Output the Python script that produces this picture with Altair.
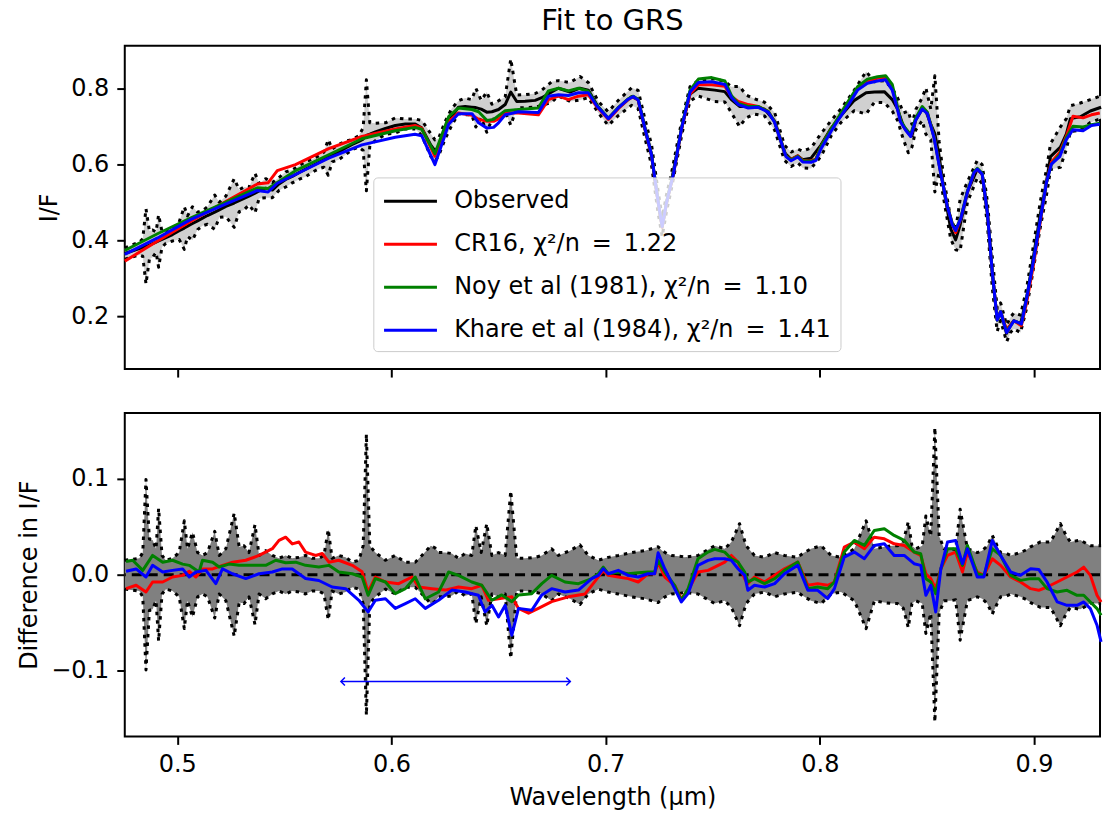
import altair as alt
import pandas as pd

FONT = "DejaVu Sans"
EQ = "\u2002=\u2002"
SERIES = ["Observed", f"CR16, χ²/n{EQ}1.22", f"Noy et al (1981), χ²/n{EQ}1.10",
          f"Khare et al (1984), χ²/n{EQ}1.41"]
COLORS = ["#000000", "#ff0000", "#008000", "#0000ff"]
X_TICKS = [0.5, 0.6, 0.7, 0.8, 0.9]
TOP_Y_TICKS = [0.2, 0.4, 0.6, 0.8]
BOT_Y_TICKS = [-0.1, 0.0, 0.1]

# ---- observed spectrum (I/F) and its uncertainty ----
obs_wl = [
    0.4755, 0.4823, 0.4839, 0.4854, 0.4870, 0.4885, 0.4901, 0.4913, 0.4929, 0.4947,
    0.4978, 0.5009, 0.5033, 0.5048, 0.5071, 0.5095, 0.5118, 0.5141, 0.5175, 0.5196,
    0.5227, 0.5266, 0.5289, 0.5312, 0.5335, 0.5363, 0.5382, 0.5413, 0.5444, 0.5475,
    0.5506, 0.5537, 0.5568, 0.5599, 0.5630, 0.5661, 0.5685, 0.5705, 0.5723, 0.5754,
    0.5786, 0.5817, 0.5848, 0.5868, 0.5883, 0.5899, 0.5925, 0.5972, 0.6018, 0.6065,
    0.6111, 0.6142, 0.6184, 0.6203, 0.6220, 0.6251, 0.6282, 0.6313, 0.6344, 0.6375,
    0.6394, 0.6419, 0.6445, 0.6469, 0.6500, 0.6531, 0.6557, 0.6585, 0.6624, 0.6671,
    0.6702, 0.6748, 0.6779, 0.6834, 0.6880, 0.6919, 0.6966, 0.7012, 0.7059, 0.7121,
    0.7152, 0.7183, 0.7214, 0.7245, 0.7264, 0.7285, 0.7307, 0.7355, 0.7369, 0.7394,
    0.7431, 0.7509, 0.7556, 0.7587, 0.7625, 0.7656, 0.7695, 0.7742, 0.7789, 0.7835,
    0.7866, 0.7897, 0.7920, 0.7959, 0.8006, 0.8053, 0.8099, 0.8161, 0.8216, 0.8255,
    0.8301, 0.8338, 0.8363, 0.8390, 0.8413, 0.8430, 0.8448, 0.8478, 0.8495, 0.8518,
    0.8537, 0.8557, 0.8580, 0.8611, 0.8634, 0.8655, 0.8689, 0.8735, 0.8758, 0.8782,
    0.8805, 0.8828, 0.8844, 0.8872, 0.8891, 0.8906, 0.8937, 0.8965, 0.8984, 0.9030,
    0.9058, 0.9077, 0.9123, 0.9151, 0.9170, 0.9216, 0.9263, 0.9313]
obs_if = [
    0.365, 0.378, 0.381, 0.384, 0.387, 0.391, 0.395, 0.398, 0.402, 0.407,
    0.415, 0.425, 0.432, 0.437, 0.444, 0.451, 0.458, 0.465, 0.474, 0.480,
    0.489, 0.498, 0.504, 0.510, 0.516, 0.524, 0.530, 0.537, 0.532, 0.548,
    0.560, 0.568, 0.578, 0.587, 0.596, 0.605, 0.612, 0.618, 0.623, 0.632,
    0.643, 0.652, 0.660, 0.666, 0.676, 0.679, 0.685, 0.694, 0.702, 0.706,
    0.706, 0.695, 0.650, 0.636, 0.645, 0.690, 0.725, 0.750, 0.752, 0.750,
    0.749, 0.745, 0.737, 0.738, 0.744, 0.757, 0.790, 0.765, 0.766, 0.768,
    0.775, 0.790, 0.800, 0.790, 0.800, 0.795, 0.750, 0.720, 0.748, 0.778,
    0.770, 0.695, 0.625, 0.500, 0.435, 0.500, 0.555, 0.695, 0.730, 0.785,
    0.800, 0.795, 0.791, 0.770, 0.752, 0.752, 0.752, 0.745, 0.713, 0.630,
    0.613, 0.622, 0.612, 0.616, 0.651, 0.695, 0.728, 0.768, 0.788, 0.790,
    0.791, 0.770, 0.745, 0.700, 0.685, 0.675, 0.717, 0.745, 0.740, 0.705,
    0.680, 0.620, 0.530, 0.430, 0.401, 0.440, 0.527, 0.587, 0.574, 0.473,
    0.316, 0.190, 0.212, 0.155, 0.178, 0.188, 0.180, 0.246, 0.310, 0.470,
    0.552, 0.620, 0.645, 0.680, 0.720, 0.725, 0.740, 0.750]
obs_err = [
    0.015, 0.017, 0.023, 0.099, 0.037, 0.036, 0.027, 0.069, 0.020, 0.015,
    0.017, 0.023, 0.056, 0.027, 0.044, 0.023, 0.020, 0.023, 0.045, 0.020,
    0.027, 0.064, 0.029, 0.030, 0.023, 0.052, 0.020, 0.025, 0.020, 0.017,
    0.020, 0.017, 0.018, 0.020, 0.017, 0.017, 0.020, 0.047, 0.017, 0.020,
    0.018, 0.013, 0.015, 0.030, 0.146, 0.030, 0.023, 0.015, 0.020, 0.013,
    0.013, 0.020, 0.030, 0.028, 0.023, 0.023, 0.022, 0.017, 0.022, 0.020,
    0.051, 0.023, 0.053, 0.020, 0.023, 0.020, 0.087, 0.017, 0.017, 0.018,
    0.020, 0.027, 0.020, 0.025, 0.031, 0.020, 0.015, 0.018, 0.020, 0.023,
    0.024, 0.025, 0.027, 0.029, 0.025, 0.022, 0.020, 0.019, 0.018, 0.019,
    0.020, 0.030, 0.027, 0.034, 0.053, 0.030, 0.020, 0.018, 0.023, 0.020,
    0.019, 0.018, 0.022, 0.027, 0.030, 0.020, 0.018, 0.027, 0.056, 0.027,
    0.029, 0.030, 0.030, 0.035, 0.055, 0.030, 0.027, 0.030, 0.061, 0.040,
    0.153, 0.040, 0.027, 0.027, 0.026, 0.068, 0.027, 0.023, 0.025, 0.030,
    0.041, 0.030, 0.023, 0.022, 0.020, 0.021, 0.023, 0.026, 0.029, 0.034,
    0.034, 0.034, 0.053, 0.040, 0.034, 0.036, 0.030, 0.030]

# ---- model spectra ----
mod_wl = [
    0.4755, 0.4908, 0.5064, 0.5220, 0.5374, 0.5424, 0.5467, 0.5552, 0.5707, 0.5862,
    0.6018, 0.6110, 0.6141, 0.6203, 0.6267, 0.6313, 0.6376, 0.6407, 0.6446, 0.6477,
    0.6500, 0.6531, 0.6593, 0.6686, 0.6733, 0.6780, 0.6826, 0.6873, 0.6919, 0.6958,
    0.7013, 0.7059, 0.7105, 0.7129, 0.7152, 0.7183, 0.7214, 0.7245, 0.7264, 0.7285,
    0.7316, 0.7355, 0.7394, 0.7433, 0.7495, 0.7557, 0.7588, 0.7619, 0.7666, 0.7712,
    0.7759, 0.7788, 0.7819, 0.7842, 0.7866, 0.7897, 0.7920, 0.7959, 0.7982, 0.8005,
    0.8052, 0.8083, 0.8129, 0.8176, 0.8222, 0.8269, 0.8307, 0.8338, 0.8362, 0.8377,
    0.8400, 0.8424, 0.8447, 0.8478, 0.8502, 0.8533, 0.8564, 0.8595, 0.8619, 0.8634,
    0.8658, 0.8689, 0.8720, 0.8735, 0.8758, 0.8782, 0.8805, 0.8828, 0.8844, 0.8872,
    0.8906, 0.8941, 0.8965, 0.8996, 0.9027, 0.9058, 0.9081, 0.9120, 0.9151, 0.9182,
    0.9229, 0.9268, 0.9307]
cr16 = [
    0.345, 0.398, 0.450, 0.500, 0.548, 0.551, 0.583, 0.599, 0.641, 0.673,
    0.693, 0.702, 0.695, 0.621, 0.712, 0.735, 0.729, 0.718, 0.713, 0.713,
    0.719, 0.735, 0.735, 0.730, 0.770, 0.779, 0.770, 0.779, 0.783, 0.752,
    0.718, 0.746, 0.770, 0.778, 0.768, 0.694, 0.624, 0.500, 0.435, 0.500,
    0.572, 0.694, 0.785, 0.809, 0.809, 0.805, 0.778, 0.765, 0.757, 0.752,
    0.739, 0.713, 0.661, 0.622, 0.612, 0.622, 0.610, 0.608, 0.614, 0.646,
    0.692, 0.718, 0.760, 0.800, 0.819, 0.826, 0.828, 0.800, 0.748, 0.713,
    0.691, 0.674, 0.717, 0.748, 0.735, 0.672, 0.578, 0.491, 0.442, 0.420,
    0.457, 0.527, 0.578, 0.587, 0.574, 0.473, 0.316, 0.192, 0.212, 0.165,
    0.188, 0.175, 0.235, 0.330, 0.440, 0.552, 0.605, 0.631, 0.674, 0.726,
    0.722, 0.730, 0.735]
noy = [
    0.373, 0.417, 0.459, 0.498, 0.538, 0.536, 0.552, 0.583, 0.625, 0.667,
    0.688, 0.697, 0.692, 0.628, 0.725, 0.748, 0.744, 0.738, 0.715, 0.718,
    0.728, 0.741, 0.744, 0.748, 0.793, 0.800, 0.793, 0.800, 0.792, 0.756,
    0.721, 0.749, 0.772, 0.779, 0.771, 0.696, 0.626, 0.502, 0.437, 0.502,
    0.574, 0.697, 0.795, 0.824, 0.828, 0.819, 0.780, 0.760, 0.752, 0.752,
    0.739, 0.713, 0.661, 0.622, 0.611, 0.621, 0.609, 0.607, 0.613, 0.646,
    0.692, 0.720, 0.762, 0.804, 0.824, 0.830, 0.833, 0.810, 0.752, 0.716,
    0.694, 0.677, 0.721, 0.752, 0.737, 0.672, 0.578, 0.491, 0.442, 0.426,
    0.459, 0.529, 0.580, 0.589, 0.576, 0.473, 0.316, 0.190, 0.212, 0.160,
    0.188, 0.180, 0.246, 0.342, 0.447, 0.552, 0.600, 0.625, 0.670, 0.700,
    0.698, 0.704, 0.708]
khare = [
    0.363, 0.406, 0.455, 0.494, 0.531, 0.527, 0.550, 0.573, 0.616, 0.651,
    0.671, 0.679, 0.675, 0.599, 0.705, 0.733, 0.733, 0.709, 0.695, 0.697,
    0.709, 0.730, 0.738, 0.736, 0.779, 0.783, 0.781, 0.788, 0.788, 0.754,
    0.720, 0.748, 0.771, 0.778, 0.769, 0.695, 0.625, 0.501, 0.436, 0.501,
    0.573, 0.696, 0.790, 0.815, 0.817, 0.810, 0.775, 0.757, 0.748, 0.750,
    0.737, 0.711, 0.659, 0.620, 0.609, 0.619, 0.606, 0.605, 0.610, 0.640,
    0.686, 0.714, 0.752, 0.795, 0.813, 0.819, 0.822, 0.795, 0.745, 0.711,
    0.690, 0.673, 0.715, 0.745, 0.733, 0.670, 0.576, 0.490, 0.440, 0.426,
    0.457, 0.527, 0.578, 0.587, 0.574, 0.473, 0.316, 0.190, 0.212, 0.157,
    0.188, 0.180, 0.246, 0.342, 0.447, 0.552, 0.600, 0.620, 0.665, 0.691,
    0.688, 0.702, 0.705]

# ---- differences (model - observed) ----
d_tail_wl = [
    0.7012, 0.7059, 0.7105, 0.7152, 0.7198, 0.7229, 0.7245, 0.7276, 0.7322, 0.7353,
    0.7385, 0.7431, 0.7478, 0.7509, 0.7556, 0.7587, 0.7618, 0.7649, 0.7664, 0.7695,
    0.7742, 0.7789, 0.7835, 0.7897, 0.7944, 0.7990, 0.8037, 0.8068, 0.8114, 0.8161,
    0.8208, 0.8254, 0.8301, 0.8347, 0.8394, 0.8440, 0.8471, 0.8495, 0.8518, 0.8541,
    0.8565, 0.8596, 0.8634, 0.8666, 0.8689, 0.8735, 0.8766, 0.8805, 0.8844, 0.8891,
    0.8937, 0.8984, 0.9022, 0.9061, 0.9108, 0.9154, 0.9201, 0.9232, 0.9263, 0.9294,
    0.9313]
d_cr16_head_wl = [
    0.4761, 0.4808, 0.4854, 0.4885, 0.4932, 0.4978, 0.5025, 0.5056, 0.5087, 0.5118,
    0.5165, 0.5211, 0.5258, 0.5320, 0.5382, 0.5444, 0.5475, 0.5506, 0.5537, 0.5568,
    0.5599, 0.5646, 0.5677, 0.5708, 0.5754, 0.5817, 0.5863, 0.5891, 0.5925, 0.5972,
    0.6034, 0.6096, 0.6127, 0.6189, 0.6251, 0.6313, 0.6375, 0.6422, 0.6453, 0.6500,
    0.6562, 0.6593, 0.6640, 0.6686, 0.6748, 0.6826, 0.6904, 0.6950, 0.6989]
d_cr16 = [
    -0.0145, -0.011, -0.018, -0.0076, -0.0076, -0.0024, -0.0007, 0.0035, -0.0024, 0.006,
    0.006, 0.0097, 0.013, 0.015, 0.020, 0.027, 0.0356, 0.039, 0.032, 0.034,
    0.0235, 0.020, 0.022, 0.013, 0.015, 0.0097, 0.003, -0.018, -0.0024, -0.0076,
    -0.0093, -0.0024, -0.0128, -0.0145, -0.016, -0.0128, -0.0145, -0.011, -0.0266, -0.025,
    -0.023, -0.035, -0.040, -0.035, -0.028, -0.023, -0.020, -0.007, 0.0045,
    -0.0007, -0.0024, -0.0041, -0.0076, 0.001, 0.001, 0.0131, -0.0024, -0.011, -0.0249,
    -0.0162, 0.0028, 0.0045, 0.0079, 0.0131, 0.020, 0.0131, -0.0041, -0.0093, -0.0024,
    -0.0076, -0.0007, 0.0062, 0.0131, -0.011, -0.0093, -0.011, -0.0076, 0.0287, 0.0339,
    0.0269, 0.039, 0.0373, 0.0321, 0.0304, 0.0235, 0.020, 0.001, -0.0041, -0.0145,
    0.0062, 0.020, 0.0235, 0.0028, 0.0235, 0.0028, -0.0007, 0.0166, 0.0097, -0.0024,
    -0.0076, -0.0145, -0.0162, -0.0128, -0.0076, -0.0024, 0.0028, 0.0079, -0.0007, -0.0214,
    -0.0283]
d_noy_head_wl = [
    0.4761, 0.4792, 0.4839, 0.4885, 0.4932, 0.4978, 0.5025, 0.5056, 0.5102, 0.5118,
    0.5165, 0.5196, 0.5242, 0.5289, 0.5351, 0.5413, 0.5460, 0.5506, 0.5553, 0.5599,
    0.5661, 0.5708, 0.5754, 0.5817, 0.5863, 0.5891, 0.5925, 0.5972, 0.6018, 0.6065,
    0.6111, 0.6158, 0.6220, 0.6267, 0.6313, 0.6375, 0.6422, 0.6469, 0.6515, 0.6562,
    0.6593, 0.6655, 0.6702, 0.6748, 0.6810, 0.6873, 0.6935, 0.6966, 0.6989]
d_noy = [
    0.0138, 0.015, 0.0045, 0.020, 0.013, 0.015, 0.011, 0.0097, 0.0028, 0.015,
    0.013, 0.008, 0.011, 0.0097, 0.0097, 0.0097, 0.015, 0.0124, 0.013, 0.0097,
    0.008, 0.0097, 0.0028, 0.001, -0.0024, -0.0214, -0.004, -0.0076, -0.0197, -0.0145,
    -0.0024, -0.025, -0.018, 0.0028, -0.0007, -0.0076, -0.011, -0.0266, -0.021, -0.028,
    -0.021, -0.0197, -0.0093, -0.0007, -0.0076, -0.0093, -0.004, 0.001, 0.0079,
    0.001, 0.0028, 0.001, 0.0021, 0.0028, 0.0028, 0.0149, 0.0028, -0.011, -0.0266,
    -0.0145, 0.0166, 0.0235, 0.0263, 0.0235, 0.0166, 0.0131, 0.0028, -0.0076, -0.0041,
    -0.0093, -0.0041, 0.0045, 0.0131, -0.0145, -0.0128, -0.0145, -0.0076, 0.0235, 0.0356,
    0.0304, 0.0459, 0.0477, 0.0408, 0.0356, 0.0235, 0.0218, -0.0041, -0.0076, -0.0197,
    0.0062, 0.0269, 0.0269, 0.0097, 0.0304, 0.001, -0.0007, 0.0269, 0.0200, -0.0007,
    -0.0059, -0.0041, -0.0041, -0.0145, -0.0180, -0.0162, -0.0214, -0.0214, -0.0283, -0.0352,
    -0.0421]
d_khare_head_wl = [
    0.4761, 0.4808, 0.4854, 0.4885, 0.4932, 0.4978, 0.5025, 0.5056, 0.5087, 0.5134,
    0.5180, 0.5211, 0.5258, 0.5320, 0.5382, 0.5444, 0.5491, 0.5537, 0.5599, 0.5661,
    0.5723, 0.5786, 0.5848, 0.5891, 0.5925, 0.5972, 0.6018, 0.6065, 0.6111, 0.6158,
    0.6220, 0.6282, 0.6344, 0.6406, 0.6437, 0.6469, 0.6500, 0.6531, 0.6562, 0.6593,
    0.6655, 0.6702, 0.6748, 0.6810, 0.6873, 0.6935, 0.6966, 0.6989]
d_khare = [
    0.0035, 0.006, -0.0024, 0.0097, 0.0028, 0.0045, 0.006, -0.0024, 0.0028, 0.0045,
    -0.0093, 0.006, 0.001, -0.004, 0.001, 0.0028, 0.006, 0.006, -0.004, -0.006,
    -0.0128, -0.0145, -0.0266, -0.0387, -0.0266, -0.025, -0.035, -0.030, -0.025, -0.035,
    -0.0266, -0.016, -0.018, -0.0214, -0.0387, -0.0318, -0.0439, -0.0318, -0.0629, -0.035,
    -0.037, -0.021, -0.0145, -0.018, -0.016, -0.004, -0.0007, 0.0062,
    0.001, 0.0045, -0.0007, -0.0024, 0.001, 0.001, 0.0228, 0.0062, -0.0145, -0.0283,
    -0.0197, 0.0097, 0.0149, 0.0166, 0.0166, 0.0149, 0.0062, -0.0007, -0.0162, -0.011,
    -0.0128, -0.0093, 0.001, 0.0097, -0.0162, -0.0162, -0.0249, -0.0145, 0.0183, 0.0235,
    0.0166, 0.0304, 0.0321, 0.0200, 0.0200, 0.0114, 0.0097, -0.0214, -0.011, -0.0387,
    0.0062, 0.0339, 0.0356, 0.0114, 0.0269, -0.0024, -0.0024, 0.0356, 0.0200, 0.0028,
    -0.0007, 0.0062, 0.0055, -0.0076, -0.0283, -0.0318, -0.0318, -0.0283, -0.0352, -0.0525,
    -0.0698]

# annotation arrow (wavelength range) in the difference panel
arrow_x = [0.5764, 0.6835]
arrow_y = -0.111

# ---------------------------------------------------------------
W, H = 977, 324
xscale = alt.Scale(domain=[0.4755, 0.9308], nice=False, zero=False)
top_ys = alt.Scale(domain=[0.061, 0.912], nice=False, zero=False)
bot_ys = alt.Scale(domain=[-0.168, 0.168], nice=False, zero=False)
color_scale = alt.Scale(domain=SERIES, range=COLORS)

legend = alt.Legend(
    title=None, orient="none", legendX=249, legendY=132,
    symbolType="M-1,0L3,0", symbolSize=702, symbolStrokeWidth=3,
    labelFont=FONT, labelFontSize=24, labelColor="black", labelLimit=0,
    rowPadding=16, labelOffset=42, padding=9,
    fillColor="rgba(255,255,255,0.8)", strokeColor="#cccccc", cornerRadius=4,
)


def xt():
    return alt.X("w:Q", scale=xscale,
                 axis=alt.Axis(values=X_TICKS, labels=False, title=None))


def xb():
    return alt.X("w:Q", scale=xscale,
                 axis=alt.Axis(values=X_TICKS, format=".1f", title="Wavelength (μm)"))


def yt(f):
    return alt.Y(f"{f}:Q", scale=top_ys,
                 axis=alt.Axis(values=TOP_Y_TICKS, format=".1f", title="I/F"))


def yb(f):
    return alt.Y(f"{f}:Q", scale=bot_ys,
                 axis=alt.Axis(values=BOT_Y_TICKS, format=".1f", title="Difference in I/F"))


def col():
    return alt.Color("series:N", scale=color_scale, legend=legend)


obs_df = pd.DataFrame({"w": obs_wl, "v": obs_if, "err": obs_err})
obs_df["hi"] = obs_df["v"] + obs_df["err"]
obs_df["lo"] = obs_df["v"] - obs_df["err"]
obs_df["ehi"] = obs_df["err"]
obs_df["elo"] = -obs_df["err"]
obs_df["series"] = SERIES[0]

model_dfs = [
    pd.DataFrame({"w": mod_wl, "v": vals, "series": name})
    for vals, name in zip([cr16, noy, khare], SERIES[1:])
]
diff_dfs = [
    pd.DataFrame({"w": d_cr16_head_wl + d_tail_wl, "v": d_cr16, "series": SERIES[1]}),
    pd.DataFrame({"w": d_noy_head_wl + d_tail_wl, "v": d_noy, "series": SERIES[2]}),
    pd.DataFrame({"w": d_khare_head_wl + d_tail_wl, "v": d_khare, "series": SERIES[3]}),
]

DOT = [3.5, 5]
LW = 3

# ---------------- top panel ----------------
t_band = alt.Chart(obs_df).mark_area(color="#d0d0d0", opacity=1).encode(
    x=xt(), y=yt("lo"), y2="hi:Q")
t_hi = alt.Chart(obs_df).mark_line(color="black", strokeDash=DOT, strokeWidth=LW,
                                   strokeJoin="round").encode(x=xt(), y=yt("hi"))
t_lo = alt.Chart(obs_df).mark_line(color="black", strokeDash=DOT, strokeWidth=LW,
                                   strokeJoin="round").encode(x=xt(), y=yt("lo"))
t_obs = alt.Chart(obs_df).mark_line(strokeWidth=LW, strokeJoin="round").encode(
    x=xt(), y=yt("v"), color=col())
t_models = [
    alt.Chart(df).mark_line(strokeWidth=LW, strokeJoin="round").encode(
        x=xt(), y=yt("v"), color=col())
    for df in model_dfs
]
top = alt.layer(t_band, t_hi, t_lo, t_obs, *t_models).properties(
    width=W, height=H,
    title=alt.TitleParams("Fit to GRS", fontSize=29, font=FONT, fontWeight="normal",
                          color="black", anchor="middle", offset=10),
)

# ---------------- bottom panel ----------------
b_band = alt.Chart(obs_df).mark_area(color="#808080", opacity=1).encode(
    x=xb(), y=yb("elo"), y2="ehi:Q")
b_hi = alt.Chart(obs_df).mark_line(color="black", strokeDash=DOT, strokeWidth=LW,
                                   strokeJoin="round").encode(x=xb(), y=yb("ehi"))
b_lo = alt.Chart(obs_df).mark_line(color="black", strokeDash=DOT, strokeWidth=LW,
                                   strokeJoin="round").encode(x=xb(), y=yb("elo"))
zero = alt.Chart(pd.DataFrame({"z": [0.0]})).mark_rule(
    color="black", strokeDash=[10, 6], strokeWidth=LW).encode(y=yb("z"))
b_lines = [
    alt.Chart(df).mark_line(strokeWidth=LW, strokeJoin="round").encode(
        x=xb(), y=yb("v"), color=alt.Color("series:N", scale=color_scale, legend=None))
    for df in diff_dfs
]
arrow_df = pd.DataFrame({"w": [arrow_x[0]], "w2": [arrow_x[1]], "y": [arrow_y]})
arrow = alt.Chart(arrow_df).mark_rule(color="#0000ff", strokeWidth=1.5).encode(
    x=xb(), x2="w2:Q", y=yb("y"))
head_l = alt.Chart(pd.DataFrame({"w": [arrow_x[0]], "y": [arrow_y]})).mark_point(
    shape="M1,-1L0,0L1,1", size=64, filled=False, color="#0000ff", strokeWidth=1.5,
    opacity=1).encode(x=xb(), y=yb("y"))
head_r = alt.Chart(pd.DataFrame({"w": [arrow_x[1]], "y": [arrow_y]})).mark_point(
    shape="M-1,-1L0,0L-1,1", size=64, filled=False, color="#0000ff", strokeWidth=1.5,
    opacity=1).encode(x=xb(), y=yb("y"))
bottom = alt.layer(b_band, b_hi, b_lo, zero, *b_lines, arrow, head_l, head_r).properties(
    width=W, height=H)

chart = alt.vconcat(top, bottom, spacing=33).configure(
    padding={"left": 16, "top": 5, "right": 0, "bottom": 2},
    background="white",
).configure_view(
    stroke="black", strokeWidth=2
).configure_axis(
    labelFont=FONT, titleFont=FONT, labelFontSize=24, titleFontSize=24,
    titleFontWeight="normal", labelColor="black", titleColor="black",
    tickColor="black", tickSize=8, tickWidth=2, labelPadding=8, titlePadding=9,
    grid=False, domain=False,
).configure_title(font=FONT)

chart.save("out.html", embed_options={"renderer": "svg", "actions": False})
